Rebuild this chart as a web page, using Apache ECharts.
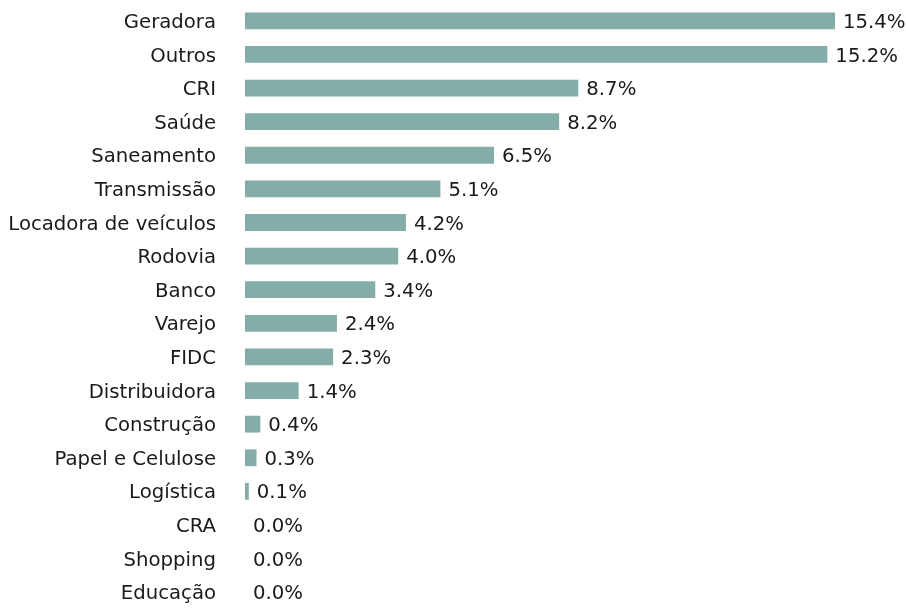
<!DOCTYPE html>
<html><head><meta charset="utf-8">
<script src="https://cdn.jsdelivr.net/npm/echarts@6/dist/echarts.min.js"></script>
<style>html,body{margin:0;padding:0;background:#fff}#c{width:906px;height:609px}</style>
</head><body><div id="c"></div>
<script>
const categories = ["Geradora","Outros","CRI","Saúde","Saneamento","Transmissão","Locadora de veículos","Rodovia","Banco","Varejo","FIDC","Distribuidora","Construção","Papel e Celulose","Logística","CRA","Shopping","Educação"];
const values = [15.4,15.2,8.7,8.2,6.5,5.1,4.2,4.0,3.4,2.4,2.3,1.4,0.4,0.3,0.1,0.0,0.0,0.0];

const chart = echarts.init(document.getElementById('c'), null, {renderer:'canvas'});
chart.setOption({
  animation:false,
  grid:{left:245, top:4, bottom:-2, width:613, containLabel:false},
  xAxis:{type:'value', min:0, max:16, show:false},
  yAxis:{type:'category', data:categories, inverse:true,
    axisLine:{show:false}, axisTick:{show:false},
    axisLabel:{margin:29, fontFamily:'DejaVu Sans', fontSize:19.7, color:'#1a1a1a',
      formatter:'{a|{value}}',
      rich:{a:{fontFamily:'DejaVu Sans', fontSize:19.7, color:'#1a1a1a', padding:[4,0,0,0]}}}},
  series:[{type:'bar', data:values, barWidth:'50%',
    itemStyle:{color:'#84ADA8'},
    label:{show:true, position:'right', distance:8, offset:[0,2], fontFamily:'DejaVu Sans', fontSize:19.7, color:'#1a1a1a',
      formatter:p=>p.value.toFixed(1)+'%'}}]
});
</script></body></html>
